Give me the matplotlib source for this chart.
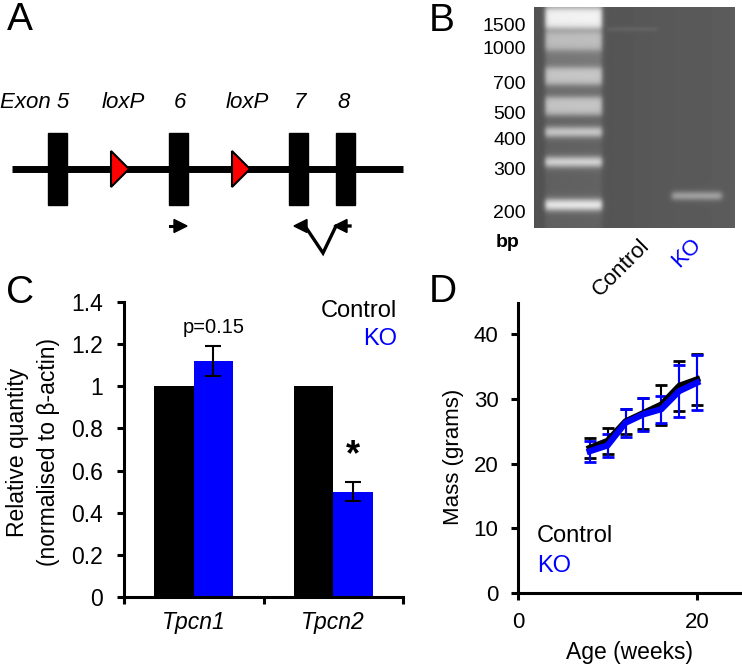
import numpy as np
import matplotlib
matplotlib.use('Agg')
import matplotlib.pyplot as plt
from matplotlib.patches import Rectangle, Polygon

plt.rcParams['font.family'] = ['Liberation Sans', 'DejaVu Sans']

# ---- data ----
# panel B: DNA ladder (bp) and where each band ran in the gel (px from well)
ladder_bp = [1500, 1000, 700, 500, 400, 300, 200]
ladder_band_y = [11, 34, 69, 99, 125, 155, 198]
ko_band_y = 189
control_band_y = 22

# panel C: qPCR
genes = ['Tpcn1', 'Tpcn2']
control_rq = [1.0, 1.0]
ko_rq = [1.12, 0.50]
ko_rq_err = [0.073, 0.044]

# panel D: body mass
age_weeks = [8, 10, 12, 14, 16, 18, 20]
control_mass = [22.4, 23.5, 26.5, 27.8, 29.1, 32.0, 33.0]
control_err = [1.6, 2.0, 2.0, 2.4, 3.1, 3.9, 3.9]
ko_mass = [21.9, 22.8, 26.3, 27.6, 28.4, 31.2, 32.5]
ko_err = [1.6, 1.8, 2.2, 2.5, 2.1, 4.0, 4.2]

BLUE = '#0000ff'
W, H = 742, 667
fig = plt.figure(figsize=(W / 100, H / 100), dpi=100)


def box(x0, y0, x1, y1):
    # pixel rectangle (top-left origin) -> figure fraction
    return [x0 / W, 1 - y1 / H, (x1 - x0) / W, (y1 - y0) / H]


def ftext(x, y, s, **kw):
    fig.text(x / W, 1 - y / H, s, **kw)


# panel letters
for letter, (lx, ly) in zip('ABCD', [(20, 20), (442, 21), (20, 293), (443, 292)]):
    ftext(lx, ly, letter, fontsize=28, ha='center', va='center')

# ---- A: gene schematic ----
axA = fig.add_axes(box(0, 0, 420, 265))
axA.set_xlim(0, 420)
axA.set_ylim(265, 0)
axA.axis('off')
axA.plot([12, 403], [169, 169], color='black', lw=5, solid_capstyle='butt')
exon_x = [57.5, 178, 298.5, 345]
for x in exon_x:
    axA.add_patch(Rectangle((x - 9.5, 133), 19, 72, color='black', zorder=3))
loxp_x = [111, 232]
for x in loxp_x:
    axA.add_patch(Polygon([[x, 151], [x, 187], [x + 18, 169]], closed=True,
                          fc='red', ec='black', lw=1.5, zorder=3))
for s, x in zip(['Exon 5', 'loxP', '6', 'loxP', '7', '8'], [35, 123, 180, 247, 300, 344]):
    axA.text(x, 102, s, ha='center', va='center', fontsize=16, style='italic')
# primers
axA.plot([170, 178], [226, 226], color='black', lw=2.2)
axA.add_patch(Polygon([[174, 219.5], [174, 232.5], [187, 226]], color='black'))
axA.add_patch(Polygon([[294, 226], [307, 219.5], [307, 232.5]], color='black'))
axA.plot([305, 323, 336, 350], [226, 253, 226, 226], color='black', lw=2.4,
         solid_joinstyle='miter')
axA.add_patch(Polygon([[334, 226], [347, 219.5], [347, 232.5]], color='black'))

# ---- B: gel ----
gw, gh = 201, 221
axB = fig.add_axes(box(534, 7, 534 + gw, 7 + gh))


def soft(d, hw, s):
    return 1 / (1 + np.exp((np.abs(d) - hw) / s))


gx = np.linspace(0, gw, 2 * gw)
gy = np.linspace(0, gh, 2 * gh)
X, Y = np.meshgrid(gx, gy)
img = 0.32 + 0.04 * X / gw
lane = soft(X - 39.5, 28.5, 1.3)
img = img + 0.22 * lane * np.clip(1.0 - Y / 140, 0.25, 1)
band_hw = [10, 9, 8.5, 9, 4.5, 4.5, 5]
band_gain = [0.42, 0.25, 0.34, 0.38, 0.42, 0.47, 0.55]
for c, hw, g in zip(ladder_band_y, band_hw, band_gain):
    img = img + g * lane * soft(Y - c, hw, 1.8)
img = img + 0.30 * soft(X - 163, 25, 1.5) * soft(Y - ko_band_y, 3.5, 1.5)
img = img + 0.06 * soft(X - 98.5, 25, 1.2) * soft(Y - control_band_y, 1.5, 1.0)
axB.imshow(np.clip(img, 0, 1), cmap='gray', vmin=0, vmax=1, aspect='auto',
           extent=(0, gw, gh, 0), interpolation='bilinear')
axB.set_xlim(0, gw)
axB.set_ylim(gh, 0)
axB.set_xticks([])
axB.set_yticks([])
for sp in axB.spines.values():
    sp.set_visible(False)
for bp, c in zip(ladder_bp, ladder_band_y):
    axB.text(-8, c + 8, str(bp), ha='right', va='center', fontsize=14)
ftext(508, 242, 'bp', fontsize=14, fontweight='bold', ha='center', va='center')
ftext(621, 268, 'Control', fontsize=16, rotation=45, ha='center', va='center')
ftext(687, 253, 'KO', fontsize=16, rotation=45, ha='center', va='center', color=BLUE)

# ---- C: qPCR bars ----
axC = fig.add_axes(box(124, 302, 403, 597))
xc = np.arange(len(genes))
bw = 0.283
axC.bar(xc - bw / 2, control_rq, bw, color='black')
axC.bar(xc + bw / 2, ko_rq, bw, color=BLUE, yerr=ko_rq_err, capsize=6,
        error_kw=dict(elinewidth=1.5, capthick=1.5, ecolor='black'))
axC.set_xlim(-0.5, 1.5)
axC.set_ylim(0, 1.4)
yt = [0, 0.2, 0.4, 0.6, 0.8, 1, 1.2, 1.4]
axC.set_yticks(yt, ['0', '0.2', '0.4', '0.6', '0.8', '1', '1.2', '1.4'])
axC.set_xticks([-0.5, 0.5, 1.5], ['', '', ''])
axC.set_xticks(xc, genes, minor=True)
axC.tick_params(axis='x', which='minor', length=0, pad=10, labelsize=16.5)
for lab in axC.get_xticklabels(minor=True):
    lab.set_style('italic')
axC.tick_params(axis='x', which='major', length=5, width=2.2, direction='out')
axC.tick_params(axis='y', length=5, width=2.2, direction='out', pad=10, labelsize=16.5)
for sp in ['top', 'right']:
    axC.spines[sp].set_visible(False)
for sp in ['left', 'bottom']:
    axC.spines[sp].set_linewidth(2.2)
axC.text(xc[0] + bw / 2, 1.28, 'p=0.15', ha='center', va='center', fontsize=14.5)
axC.text(xc[1] + bw / 2, 0.67, '*', ha='center', va='center', fontsize=26, fontweight='bold')
axC.text(0.98, 0.97, 'Control', transform=axC.transAxes, ha='right', va='center', fontsize=17)
axC.text(0.98, 0.875, 'KO', transform=axC.transAxes, ha='right', va='center', fontsize=17,
         color=BLUE)
ftext(33, 452, 'Relative quantity\n(normalised to \u03b2-actin)', rotation=90,
      ha='center', va='center', fontsize=16.5, linespacing=1.4)

# ---- D: mass over age ----
axD = fig.add_axes(box(518, 303, 742, 593))
axD.errorbar(age_weeks, control_mass, yerr=control_err, fmt='none', ecolor='black',
             elinewidth=1.5, capsize=4.5, capthick=2)
axD.errorbar(age_weeks, ko_mass, yerr=ko_err, fmt='none', ecolor=BLUE,
             elinewidth=1.5, capsize=4.5, capthick=2)
axD.plot(age_weeks, control_mass, color='black', lw=4.5, solid_joinstyle='miter')
axD.plot(age_weeks, ko_mass, color=BLUE, lw=4.5, solid_joinstyle='miter')
axD.set_xlim(0, 25)
axD.set_ylim(0, 44.8)
axD.set_xticks([0, 20])
axD.set_yticks([0, 10, 20, 30, 40])
axD.tick_params(length=5, width=2.2, direction='out', pad=9, labelsize=16)
for sp in ['top', 'right']:
    axD.spines[sp].set_visible(False)
for sp in ['left', 'bottom']:
    axD.spines[sp].set_linewidth(2.2)
axD.text(0.085, 0.195, 'Control', transform=axD.transAxes, ha='left', va='center', fontsize=17)
axD.text(0.085, 0.092, 'KO', transform=axD.transAxes, ha='left', va='center', fontsize=17,
         color=BLUE)
ftext(453, 457, 'Mass (grams)', rotation=90, ha='center', va='center', fontsize=16)
ftext(630, 653, 'Age (weeks)', ha='center', va='center', fontsize=16.5)

fig.savefig('out.png', dpi=100)
